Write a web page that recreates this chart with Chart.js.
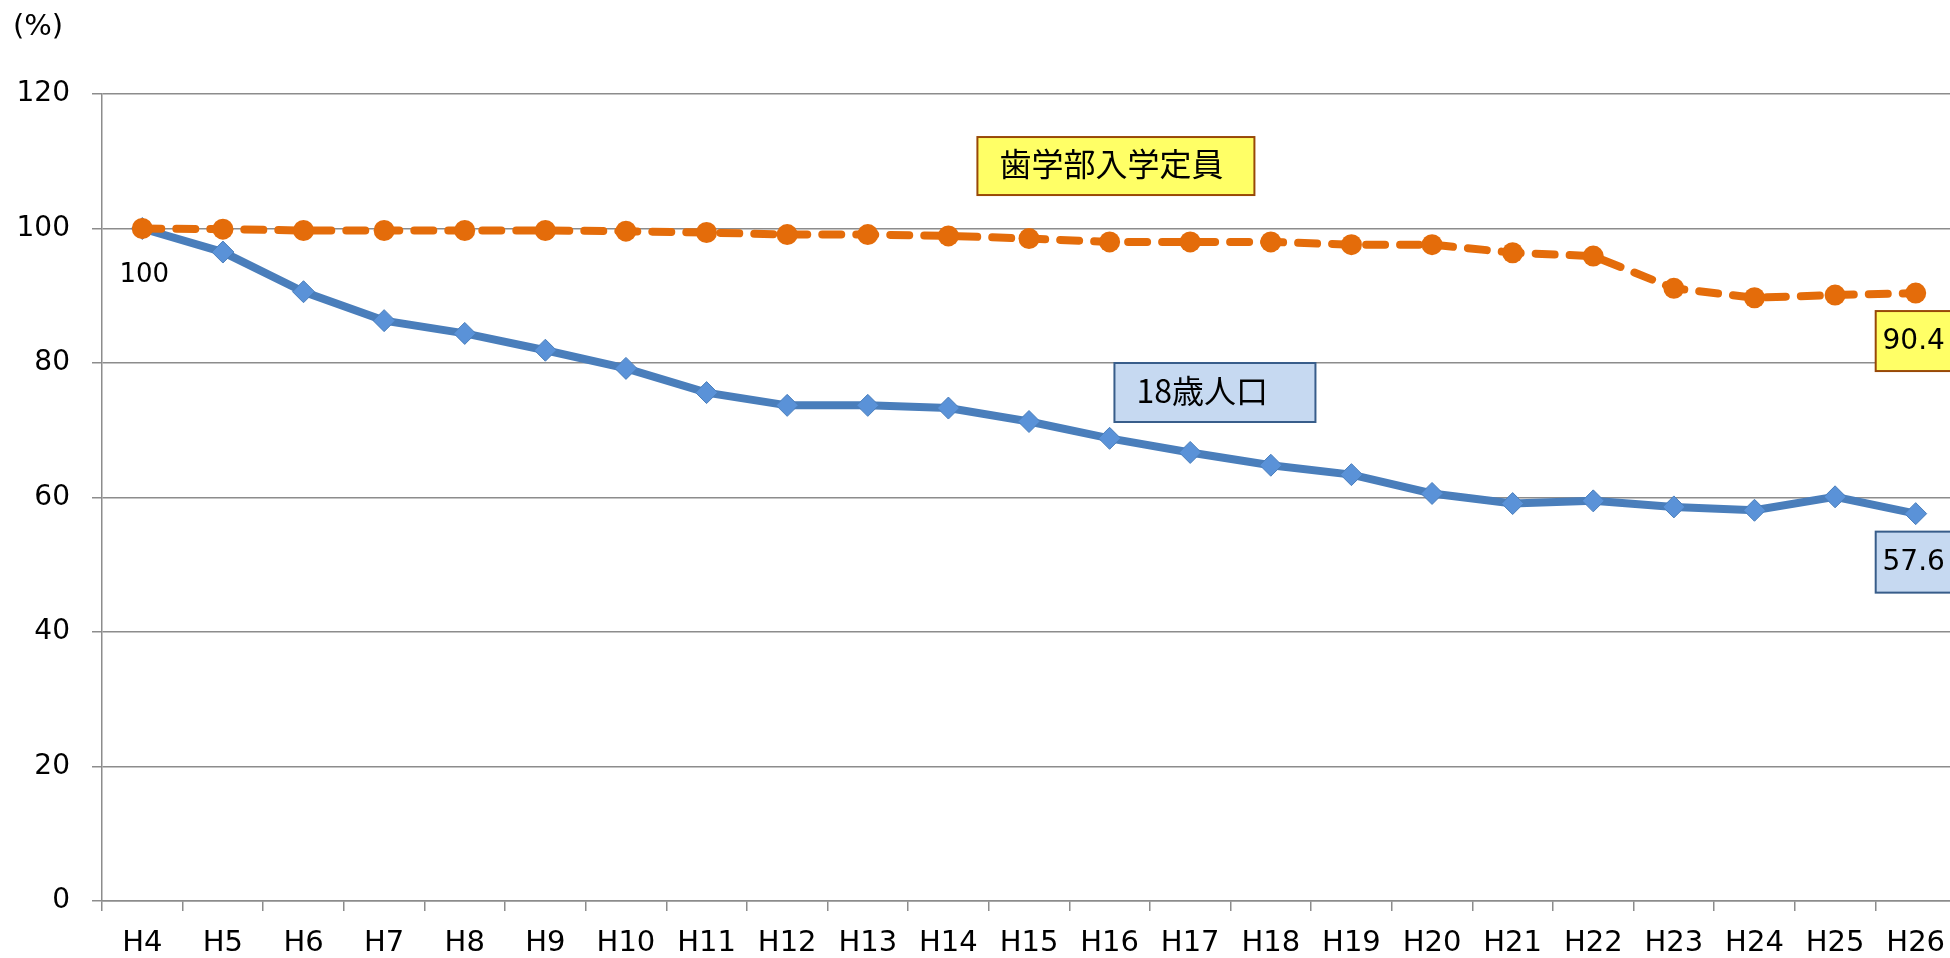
<!DOCTYPE html>
<html lang="ja">
<head>
<meta charset="utf-8">
<title>18歳人口と歯学部入学定員の推移</title>
<script src="https://cdn.jsdelivr.net/npm/chart.js@4/dist/chart.umd.min.js"></script>
<style>
    html, body { margin: 0; padding: 0; background: #fff; overflow: hidden; }
    #wrap { position: relative; width: 1968px; height: 958px; }
</style>
</head>
<body>
<div id="wrap"><canvas id="trend-chart"></canvas></div>
<script>
// Years (Heisei)
const years = ["H4", "H5", "H6", "H7", "H8", "H9", "H10", "H11", "H12", "H13", "H14", "H15",
    "H16", "H17", "H18", "H19", "H20", "H21", "H22", "H23", "H24", "H25", "H26"];

// Index, H4 = 100
const dentalQuota = [100, 99.9, 99.7, 99.7, 99.7, 99.7, 99.6, 99.4, 99.1, 99.1, 98.9, 98.5,
    98.0, 98.0, 98.0, 97.6, 97.6, 96.4, 95.9, 91.1, 89.7, 90.1, 90.4];
const pop18 = [100, 96.5, 90.6, 86.3, 84.4, 81.9, 79.2, 75.6, 73.7, 73.7, 73.3, 71.3,
    68.8, 66.7, 64.8, 63.4, 60.6, 59.1, 59.5, 58.6, 58.1, 60.1, 57.6];

const seriesNames = ["歯学部入学定員", "18歳人口"];
const yTicks = [0, 20, 40, 60, 80, 100, 120];

const LATIN = "'DejaVu Sans', 'Noto Sans CJK JP', sans-serif";
const CJK = "'Noto Sans CJK JP', sans-serif";
const ORANGE = "#E46C0A";
const BLUE = "#4A7EBB";
const GRID = "#8c8c8c";

// draw a filled, bordered text box
function textBox(ctx, text, left, top, w, h, fill, stroke, font, align) {
    ctx.fillStyle = fill;
    ctx.fillRect(left, top, w, h);
    ctx.lineWidth = 2;
    ctx.strokeStyle = stroke;
    ctx.strokeRect(left, top, w, h);
    ctx.fillStyle = "#000";
    ctx.font = font;
    ctx.textBaseline = "middle";
    if (align === "left") {
        ctx.textAlign = "left";
        ctx.fillText(text, left + 22, top + h / 2 - 2);
    } else {
        ctx.textAlign = "center";
        ctx.fillText(text, left + w / 2, top + h / 2 + 1);
    }
}

const annotations = {
    id: "annotations",
    afterDatasetsDraw(chart) {
        const ctx = chart.ctx;
        const xs = chart.scales.x;
        const ys = chart.scales.y;
        const area = chart.chartArea;
        ctx.save();

        // unit
        ctx.fillStyle = "#000";
        ctx.font = "29px " + LATIN;
        ctx.textAlign = "left";
        ctx.textBaseline = "middle";
        ctx.fillText("(%)", area.left - 89, area.top - 67);

        // series name boxes
        textBox(ctx, seriesNames[0], xs.getPixelForValue(10.36), ys.getPixelForValue(113.6),
            277, 58, "#FFFF66", "#984807", "32px " + CJK, "left");
        textBox(ctx, seriesNames[1], xs.getPixelForValue(12.06), ys.getPixelForValue(80),
            201, 59, "#C6D9F1", "#385D8A", "32px " + CJK, "left");

        // first value label
        const p0 = chart.getDatasetMeta(1).data[0];
        ctx.fillStyle = "#000";
        ctx.font = "26px " + LATIN;
        ctx.textAlign = "center";
        ctx.textBaseline = "middle";
        ctx.fillText(String(pop18[0]), p0.x + 2, p0.y + 47);

        // last value labels
        const last = years.length - 1;
        const pa = chart.getDatasetMeta(0).data[last];
        textBox(ctx, dentalQuota[last].toFixed(1), pa.x - 40, pa.y + 18, 76, 60,
            "#FFFF66", "#984807", "28px " + LATIN, "center");
        const pb = chart.getDatasetMeta(1).data[last];
        textBox(ctx, pop18[last].toFixed(1), pb.x - 40, pb.y + 18, 76, 61,
            "#C6D9F1", "#385D8A", "28px " + LATIN, "center");

        ctx.restore();
    }
};

const ctx = document.getElementById("trend-chart").getContext("2d");

const trendChart = new Chart(ctx, {
    type: "line",
    data: {
        labels: years,
        datasets: [
            {
                label: seriesNames[0],
                data: dentalQuota,
                borderColor: ORANGE,
                borderWidth: 8,
                borderDash: [19, 15],
                borderCapStyle: "round",
                pointStyle: "circle",
                pointRadius: 10.5,
                pointBackgroundColor: ORANGE,
                pointBorderWidth: 0,
                tension: 0
            },
            {
                label: seriesNames[1],
                data: pop18,
                borderColor: BLUE,
                borderWidth: 8,
                pointStyle: "rectRot",
                pointRadius: 11,
                pointBackgroundColor: "#5A92D8",
                pointBorderColor: BLUE,
                pointBorderWidth: 1,
                tension: 0
            }
        ]
    },
    options: {
        responsive: true,
        maintainAspectRatio: false,
        animation: false,
        layout: { padding: { left: 16, top: 94, right: 0, bottom: 0 } },
        plugins: {
            legend: { display: false },
            tooltip: { enabled: false },
            title: { display: false }
        },
        scales: {
            x: {
                offset: true,
                afterFit(scale) { scale.height = 57; },
                grid: {
                    offset: true,
                    drawOnChartArea: false,
                    drawTicks: true,
                    tickLength: 10,
                    color: GRID,
                    lineWidth: 1.5
                },
                border: { color: GRID, width: 1.5 },
                ticks: {
                    color: "#000",
                    padding: 15,
                    maxRotation: 0,
                    autoSkip: false,
                    font: { family: LATIN, size: 29, lineHeight: 1.2 }
                }
            },
            y: {
                min: 0,
                max: 120,
                afterFit(scale) { scale.width = 86; },
                afterBuildTicks(scale) {
                    scale.ticks = yTicks.map(v => ({ value: v }));
                },
                grid: {
                    color: GRID,
                    lineWidth: 1.5,
                    drawTicks: true,
                    tickLength: 10
                },
                border: { color: GRID, width: 1.5 },
                ticks: {
                    color: "#000",
                    padding: 22,
                    font: { family: LATIN, size: 28 }
                }
            }
        }
    },
    plugins: [annotations]
});
</script>
</body>
</html>
